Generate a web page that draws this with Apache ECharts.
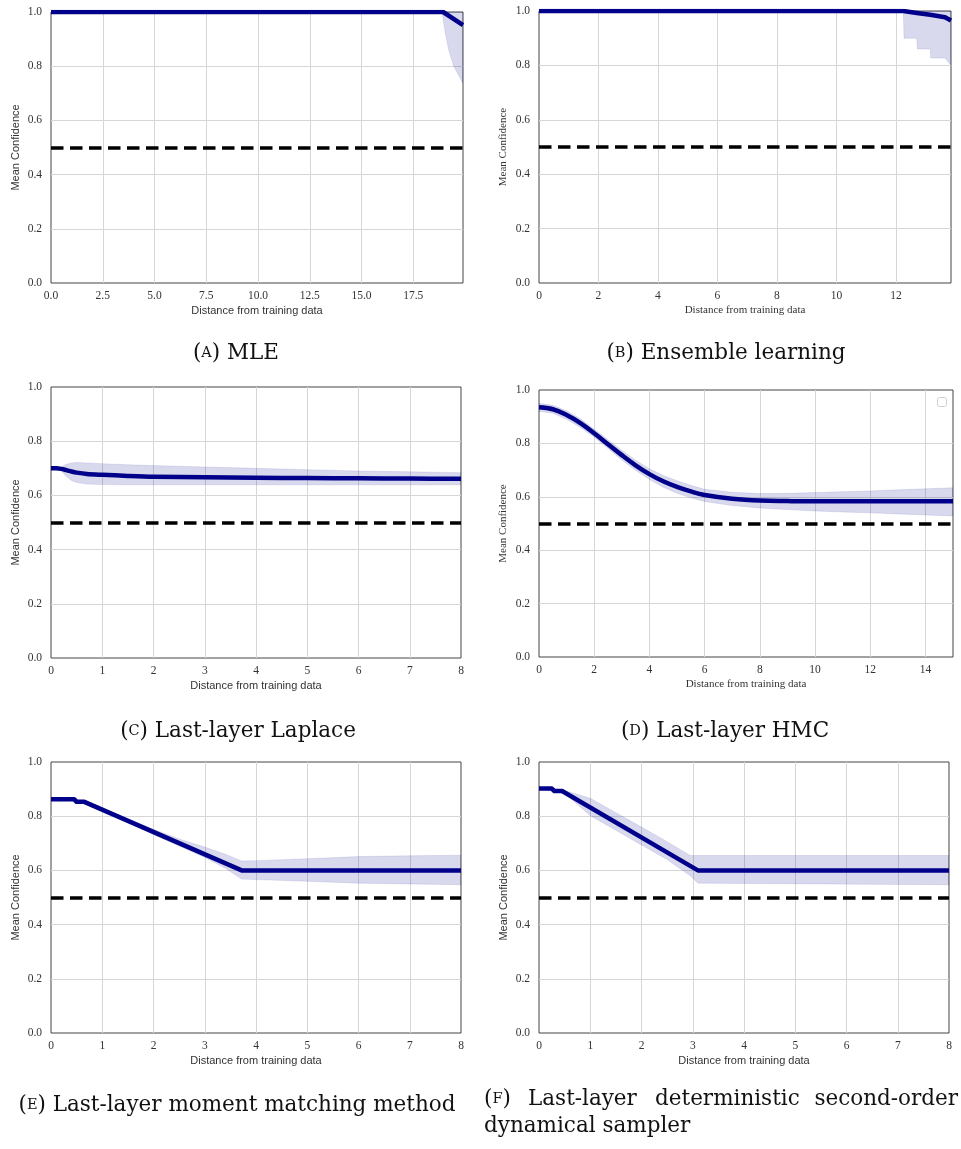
<!DOCTYPE html>
<html>
<head>
<meta charset="utf-8">
<script src="https://cdn.jsdelivr.net/npm/echarts@6/dist/echarts.min.js"></script>
<style>
html,body{margin:0;padding:0;background:#fff;}
#chart{width:961px;height:1149px;}
</style>
</head>
<body>
<div id="chart"></div>
<script>
// ---------- tick labels ----------
const yTickValues = [0.0, 0.2, 0.4, 0.6, 0.8, 1.0];
const threshold = 0.5;

// ---------- (A) MLE ----------
const aMeanX = [0, 18.94, 19.9];
const aMean  = [1.0, 1.0, 0.952];
const aBandX = [0, 18.89, 19.05, 19.21, 19.45, 19.9];
const aBandLo = [1.0, 1.0, 0.92, 0.86, 0.80, 0.737];
const aBandHi = [1.0, 1.0, 1.0, 1.0, 1.0, 1.0];

// ---------- (B) Ensemble learning ----------
const bMeanX = [0, 12.25, 12.3, 12.7, 12.75, 13.15, 13.2, 13.65, 13.85];
const bMean  = [1.0, 1.0, 0.995, 0.993, 0.988, 0.986, 0.979, 0.977, 0.965];
const bBandX = [0, 12.25, 12.27, 12.7, 12.72, 13.15, 13.17, 13.65, 13.85];
const bBandLo = [1.0, 1.0, 0.90, 0.90, 0.86, 0.86, 0.827, 0.827, 0.80];
const bBandHi = [1.0, 1.0, 1.0, 1.0, 1.0, 1.0, 1.0, 1.0, 1.0];

// ---------- (C) Last-layer Laplace ----------
const cX = [0, 0.1, 0.2, 0.3, 0.4, 0.5, 0.7, 1, 1.5, 2, 3, 4, 5, 6, 7, 8];
const cMean = [0.70, 0.70, 0.698, 0.693, 0.688, 0.684, 0.679, 0.676, 0.672, 0.669, 0.667, 0.665, 0.664, 0.663, 0.662, 0.661];
const cHi   = [0.70, 0.70, 0.705, 0.715, 0.72, 0.721, 0.72, 0.717, 0.713, 0.71, 0.705, 0.70, 0.695, 0.69, 0.687, 0.684];
const cLo   = [0.70, 0.70, 0.69, 0.67, 0.655, 0.648, 0.642, 0.64, 0.639, 0.639, 0.639, 0.639, 0.639, 0.639, 0.639, 0.639];

// ---------- (D) Last-layer HMC ----------
const dX = [0, 0.5, 1, 1.5, 2, 2.5, 3, 3.5, 4, 4.5, 5, 5.5, 6, 7, 8, 9, 10, 11, 12, 13, 14, 15];
const dMean = [0.935, 0.928, 0.906, 0.876, 0.838, 0.797, 0.756, 0.718, 0.685, 0.658, 0.637, 0.62, 0.607, 0.593, 0.586, 0.584, 0.583, 0.583, 0.583, 0.583, 0.583, 0.583];
const dHi   = [0.95, 0.943, 0.922, 0.892, 0.853, 0.814, 0.774, 0.737, 0.705, 0.68, 0.66, 0.643, 0.628, 0.617, 0.612, 0.613, 0.616, 0.619, 0.622, 0.626, 0.63, 0.634];
const dLo   = [0.92, 0.913, 0.89, 0.86, 0.823, 0.781, 0.738, 0.699, 0.665, 0.636, 0.613, 0.596, 0.582, 0.567, 0.558, 0.552, 0.547, 0.543, 0.54, 0.536, 0.532, 0.528];

// ---------- (E) Last-layer moment matching ----------
const eMeanX = [0, 0.45, 0.5, 0.65, 3.72, 8];
const eMean  = [0.863, 0.863, 0.853, 0.853, 0.60, 0.60];
const eBandX = [0, 0.65, 1, 1.5, 2, 2.5, 3, 3.4, 3.72, 4, 5, 6, 7, 8];
const eHi    = [0.863, 0.853, 0.826, 0.79, 0.752, 0.716, 0.686, 0.66, 0.635, 0.636, 0.643, 0.651, 0.654, 0.656];
const eLo    = [0.863, 0.853, 0.822, 0.778, 0.732, 0.69, 0.648, 0.608, 0.568, 0.566, 0.56, 0.553, 0.55, 0.547];

// ---------- (F) Last-layer deterministic second-order ----------
const fMeanX = [0, 0.25, 0.3, 0.45, 3.1, 8];
const fMean  = [0.902, 0.902, 0.893, 0.893, 0.60, 0.60];
const fBandX = [0, 0.3, 0.5, 1, 1.5, 2, 2.5, 2.95, 3.1, 8];
const fHi    = [0.902, 0.895, 0.895, 0.866, 0.813, 0.76, 0.706, 0.655, 0.655, 0.655];
const fLo    = [0.902, 0.89, 0.885, 0.802, 0.748, 0.694, 0.64, 0.58, 0.553, 0.547];

const xMax = [19.9, 13.85, 8, 15, 8, 8];
const xInterval = [2.5, 2, 1, 2, 1, 1];
const xDecimals = [1, 0, 0, 0, 0, 0];

const xName = 'Distance from training data';
const yName = 'Mean Confidence';

const SERIF = '"Liberation Serif", "DejaVu Serif", serif';
const SANS = '"Liberation Sans", "DejaVu Sans", sans-serif';
const nameFonts = [SANS, SERIF, SANS, SERIF, SANS, SANS];

const grids = [
  {left: 51, top: 12, width: 412, height: 271},
  {left: 539, top: 11, width: 412, height: 272},
  {left: 51, top: 387, width: 410, height: 271},
  {left: 539, top: 390, width: 414, height: 267},
  {left: 51, top: 762, width: 410, height: 271},
  {left: 539, top: 762, width: 410, height: 271}
];

const LINE_COLOR = '#00008b';
const BAND_FILL = 'rgba(0,0,139,0.15)';
const BAND_STROKE = 'rgba(0,0,139,0.12)';

function bandSeries(gi, xs, lo, hi) {
  return {
    type: 'custom', xAxisIndex: gi, yAxisIndex: gi, silent: true, z: 1,
    clip: true,
    data: xs.map((x, i) => [x, lo[i], hi[i]]),
    encode: {x: 0, y: [1, 2]},
    renderItem: function (params, api) {
      if (params.dataIndex !== 0) return null;
      const pts = [];
      for (let i = 0; i < xs.length; i++) pts.push(api.coord([xs[i], hi[i]]));
      for (let i = xs.length - 1; i >= 0; i--) pts.push(api.coord([xs[i], lo[i]]));
      return {type: 'polygon', shape: {points: pts},
        style: {fill: BAND_FILL, stroke: BAND_STROKE, lineWidth: 0.8}};
    }
  };
}

function meanSeries(gi, xs, ys, smooth) {
  return {
    type: 'line', xAxisIndex: gi, yAxisIndex: gi, z: 3,
    data: xs.map((x, i) => [x, ys[i]]),
    showSymbol: false, symbol: 'none', smooth: smooth || false,
    lineStyle: {color: LINE_COLOR, width: 4.5, cap: 'butt', join: 'round'},
    markLine: {
      silent: true, symbol: ['none', 'none'], label: {show: false},
      lineStyle: {color: '#000', type: [12.5, 6.5], width: 3.5},
      emphasis: {disabled: true},
      data: [{yAxis: threshold}]
    }
  };
}

const option = {
  animation: false,
  backgroundColor: '#fff',
  grid: grids.map(g => Object.assign({show: true, borderColor: '#444', borderWidth: 1,
    backgroundColor: 'transparent', containLabel: false, outerBoundsMode: 'none'}, g)),
  xAxis: grids.map((g, i) => ({
    gridIndex: i, type: 'value', min: 0, max: xMax[i], interval: xInterval[i],
    axisLine: {show: false}, axisTick: {show: false},
    splitLine: {show: true, showMinLine: false, showMaxLine: false, lineStyle: {color: '#d6d6d6', width: 1}},
    axisLabel: {
      fontFamily: SERIF, fontSize: 11.5, color: '#333', margin: 7,
      showMaxLabel: xMax[i] % xInterval[i] === 0,
      formatter: v => (Math.abs(v / xInterval[i] - Math.round(v / xInterval[i])) < 1e-6) ? v.toFixed(xDecimals[i]) : ''
    },
    name: xName, nameLocation: 'middle', nameGap: 22,
    nameTextStyle: {fontFamily: nameFonts[i], fontSize: 11, color: '#333'}
  })),
  yAxis: grids.map((g, i) => ({
    gridIndex: i, type: 'value', min: 0, max: 1, interval: 0.2,
    axisLine: {show: false}, axisTick: {show: false},
    splitLine: {show: true, showMinLine: false, showMaxLine: false, lineStyle: {color: '#d6d6d6', width: 1}},
    axisLabel: {fontFamily: SERIF, fontSize: 11.5, color: '#333', margin: 9,
      formatter: v => v.toFixed(1)},
    name: yName, nameLocation: 'middle', nameGap: 30, nameRotate: 90,
    nameTextStyle: {fontFamily: nameFonts[i], fontSize: 11, color: '#333'}
  })),
  series: [
    bandSeries(0, aBandX, aBandLo, aBandHi), meanSeries(0, aMeanX, aMean),
    bandSeries(1, bBandX, bBandLo, bBandHi), meanSeries(1, bMeanX, bMean),
    bandSeries(2, cX, cLo, cHi), meanSeries(2, cX, cMean, 0.3),
    bandSeries(3, dX, dLo, dHi), meanSeries(3, dX, dMean, 0.4),
    bandSeries(4, eBandX, eLo, eHi), meanSeries(4, eMeanX, eMean),
    bandSeries(5, fBandX, fLo, fHi), meanSeries(5, fMeanX, fMean)
  ],
  graphic: []
};

// captions
const CAP_FONT = '"DejaVu Serif", "Liberation Serif", serif';
const CAP_SIZE = 21.5;
const capRich = {
  n: {fontFamily: CAP_FONT, fontSize: CAP_SIZE, fill: '#111'},
  s: {fontFamily: CAP_FONT, fontSize: 14.5, fill: '#111'}
};
function caption(letter, text, x, y, align) {
  return {
    type: 'text', silent: true,
    style: {
      x: x, y: y, text: '{n|(}{s|' + letter + '}{n|) ' + text + '}',
      rich: capRich, align: align || 'center', verticalAlign: 'middle',
      font: CAP_SIZE + 'px ' + CAP_FONT, fill: '#111'
    }
  };
}
function plain(text, x, y, align) {
  return {type: 'text', silent: true,
    style: {x: x, y: y, text: text, align: align || 'left', verticalAlign: 'middle',
      fontFamily: CAP_FONT, fontSize: CAP_SIZE, fill: '#111'}};
}
option.graphic.push(caption('A', 'MLE', 236, 353));
option.graphic.push(caption('B', 'Ensemble learning', 726, 353));
option.graphic.push(caption('C', 'Last-layer Laplace', 238, 731));
option.graphic.push(caption('D', 'Last-layer HMC', 725, 731));
option.graphic.push(caption('E', 'Last-layer moment matching method', 237, 1105));
option.graphic.push({
  type: 'text', silent: true,
  style: {x: 484, y: 1099, text: '{n|(}{s|F}{n|)}', rich: capRich, align: 'left', verticalAlign: 'middle'}
});
option.graphic.push(plain('Last-layer', 528, 1099));
option.graphic.push(plain('deterministic', 655, 1099));
option.graphic.push(plain('second-order', 958, 1099, 'right'));
option.graphic.push(plain('dynamical sampler', 484, 1126));
// empty legend box in panel D
option.graphic.push({
  type: 'rect', silent: true,
  shape: {x: 937.5, y: 397.5, width: 9, height: 9, r: 2},
  style: {fill: '#fff', stroke: '#cfcfcf', lineWidth: 1}
});

const chart = echarts.init(document.getElementById('chart'), null, {renderer: 'canvas'});
chart.setOption(option);
</script>
</body>
</html>
